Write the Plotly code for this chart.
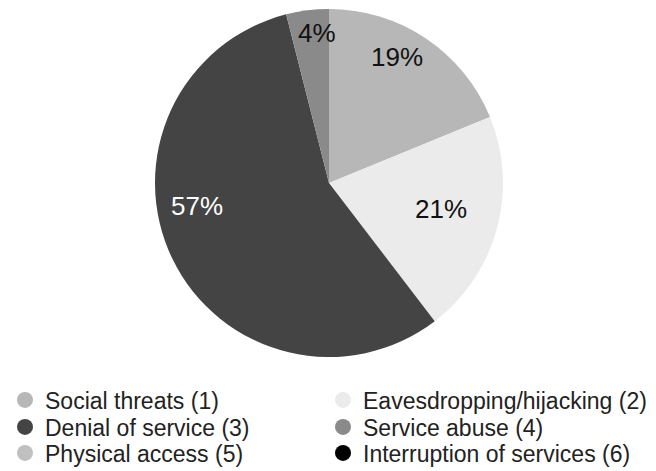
import math
import plotly.graph_objects as go

labels = ["Social threats (1)", "Eavesdropping/hijacking (2)", "Denial of service (3)",
          "Service abuse (4)", "Physical access (5)", "Interruption of services (6)"]
values = [19, 21, 57, 4, 0, 0]
colors = ["#b7b7b7", "#ebebeb", "#444444", "#8a8a8a", "#c0c0c0", "#000000"]
text_colors = ["#111111", "#111111", "#ffffff", "#111111", "#111111", "#111111"]
# label placement (radial fraction, angular shift in degrees) per slice
label_rfrac = [0.83, 0.66, 0.77, 0.87, 0, 0]
label_dang = [-5.8, -2.6, 16.5, 2.7, 0, 0]

W, H = 656, 471
off = 8  # page body margin
cx, cy, r = 329 - off, 183 - off, 174

fig = go.Figure()
fig.add_trace(go.Pie(
    labels=labels, values=values, sort=False, direction="clockwise", rotation=0,
    marker=dict(colors=colors, line=dict(width=0)),
    textinfo="none", showlegend=False, hoverinfo="label+value",
    domain=dict(x=[(cx - r) / W, (cx + r) / W], y=[1 - (cy + r) / H, 1 - (cy - r) / H]),
))

total = sum(values)
cum = 0
for v, tc, rf, da in zip(values, text_colors, label_rfrac, label_dang):
    if v:
        mid = (cum + v / 2) / total * 360 + da
        px = cx + rf * r * math.sin(math.radians(mid))
        py = cy - rf * r * math.cos(math.radians(mid)) + 1
        fig.add_annotation(x=px / W, y=1 - py / H, xref="paper", yref="paper",
                           xanchor="center", yanchor="middle",
                           text=f"{v}%", showarrow=False,
                           font=dict(size=26, color=tc, family="Liberation Sans, Arial"))
    cum += v

# legend: two columns, three rows (one legend box per entry)
col_text_x = [45, 363]
row_text_y = [400, 427, 453]
legends = {}
for i, (lab, col) in enumerate(zip(labels, colors)):
    key = "legend" if i == 0 else f"legend{i + 1}"
    fig.add_trace(go.Scatter(x=[None], y=[None], mode="markers", name=lab, legend=key,
                             marker=dict(color=col, size=17, symbol="circle")))
    lx = col_text_x[i % 2] - off - 40
    ly = row_text_y[i // 2] - off
    legends[key] = dict(orientation="v", xanchor="left", yanchor="middle",
                        x=lx / W, y=1 - ly / H,
                        font=dict(size=23, color="#222222"), bgcolor="rgba(0,0,0,0)",
                        itemsizing="trace")

fig.update_layout(
    width=W, height=H, margin=dict(l=0, r=0, t=0, b=0, autoexpand=False),
    paper_bgcolor="white", plot_bgcolor="white",
    xaxis=dict(visible=False), yaxis=dict(visible=False),
    font=dict(family="Liberation Sans, Arial", color="#222222"),
    **legends,
)
fig.write_html("out.html")
